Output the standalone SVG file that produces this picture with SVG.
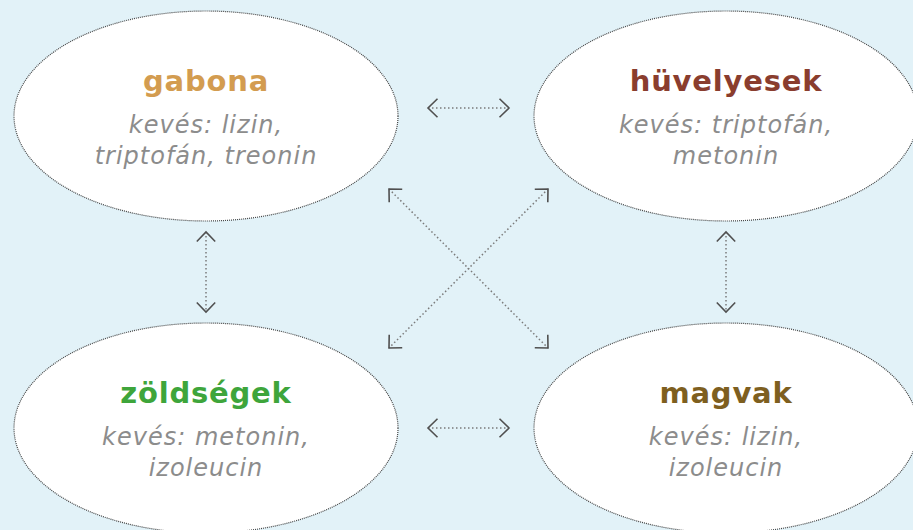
<svg xmlns="http://www.w3.org/2000/svg" width="913" height="530" viewBox="0 0 913 530">
  <style>
    .bg { fill: #e2f2f8; }
    .node ellipse { fill: #ffffff; stroke: #444444; stroke-width: 1.2; stroke-dasharray: 1 1; }
    .title { font-family: "DejaVu Sans", "Liberation Sans", sans-serif; font-weight: 700; font-size: 29px; letter-spacing: 0.8px; text-anchor: middle; }
    .sub { font-family: "DejaVu Sans", "Liberation Sans", sans-serif; font-style: italic; font-size: 24px; letter-spacing: 1px; fill: #8c8c8c; text-anchor: middle; }
    .link { stroke: #7a7a7a; stroke-width: 1.5; stroke-dasharray: 1.5 2.5; fill: none; marker-start: url(#head); marker-end: url(#head); }
  </style>
  <defs>
    <marker id="head" markerUnits="userSpaceOnUse" viewBox="-12 -11 14 22" refX="0" refY="0" markerWidth="14" markerHeight="22" orient="auto-start-reverse" overflow="visible">
      <path d="M-9.5,-9.2 L0,0 L-9.5,9.2" fill="none" stroke="#505050" stroke-width="1.6"/>
    </marker>
  </defs>

  <rect class="bg" x="0" y="0" width="913" height="530"/>

  <g id="connectors">
    <line class="link" x1="428" y1="108" x2="509" y2="108"/>
    <line class="link" x1="428" y1="428" x2="509" y2="428"/>
    <line class="link" x1="206" y1="232" x2="206" y2="312"/>
    <line class="link" x1="726" y1="232" x2="726" y2="312"/>
    <line class="link" x1="389" y1="189" x2="548" y2="348"/>
    <line class="link" x1="548" y1="189" x2="389" y2="348"/>
  </g>

  <g id="gabona" class="node">
    <ellipse cx="206" cy="116" rx="192" ry="105"/>
    <text class="title" x="206" y="91" fill="#d39c50">gabona</text>
    <text class="sub" x="206" y="133">kevés: lizin,</text>
    <text class="sub" x="206" y="164">triptofán, treonin</text>
  </g>

  <g id="huvelyesek" class="node">
    <ellipse cx="726" cy="116" rx="192" ry="105"/>
    <text class="title" x="726" y="91" fill="#8a3d2e">hüvelyesek</text>
    <text class="sub" x="726" y="133">kevés: triptofán,</text>
    <text class="sub" x="726" y="164">metonin</text>
  </g>

  <g id="zoldsegek" class="node">
    <ellipse cx="206" cy="428" rx="192" ry="105"/>
    <text class="title" x="206" y="403" fill="#3ea53b">zöldségek</text>
    <text class="sub" x="206" y="445">kevés: metonin,</text>
    <text class="sub" x="206" y="476">izoleucin</text>
  </g>

  <g id="magvak" class="node">
    <ellipse cx="726" cy="428" rx="192" ry="105"/>
    <text class="title" x="726" y="403" fill="#7e5f1f">magvak</text>
    <text class="sub" x="726" y="445">kevés: lizin,</text>
    <text class="sub" x="726" y="476">izoleucin</text>
  </g>
</svg>
